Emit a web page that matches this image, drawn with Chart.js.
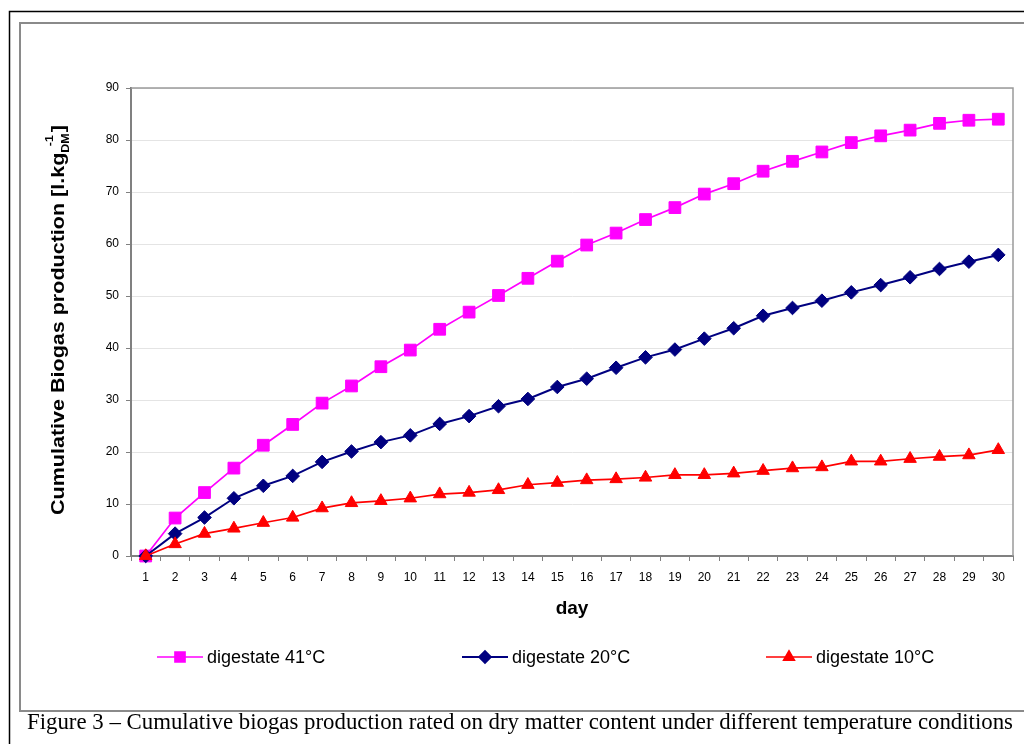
<!DOCTYPE html>
<html>
<head>
<meta charset="utf-8">
<script src="https://cdn.jsdelivr.net/npm/chart.js@4.4.0/dist/chart.umd.min.js"></script>
<style>
  html, body { margin: 0; padding: 0; background: #ffffff; }
  #wrap { position: relative; width: 1024px; height: 744px; }
</style>
</head>
<body>
<div id="wrap"><canvas id="c" width="1024" height="744"></canvas></div>
<script>
// ---- data ----
const days = ['1','2','3','4','5','6','7','8','9','10','11','12','13','14','15',
              '16','17','18','19','20','21','22','23','24','25','26','27','28','29','30'];
const digestate41 = [0, 7.3, 12.2, 16.9, 21.3, 25.3, 29.4, 32.7, 36.4, 39.6,
                     43.6, 46.9, 50.1, 53.4, 56.7, 59.8, 62.1, 64.7, 67.0, 69.6,
                     71.6, 74.0, 75.9, 77.7, 79.5, 80.8, 81.9, 83.2, 83.8, 84.0];
const digestate20 = [0, 4.3, 7.4, 11.1, 13.5, 15.4, 18.1, 20.1, 21.9, 23.2,
                     25.4, 26.9, 28.8, 30.2, 32.5, 34.1, 36.2, 38.2, 39.7, 41.8,
                     43.8, 46.2, 47.7, 49.1, 50.7, 52.1, 53.6, 55.2, 56.6, 57.9];
const digestate10 = [0, 2.3, 4.3, 5.3, 6.4, 7.4, 9.2, 10.2, 10.6, 11.1,
                     11.9, 12.2, 12.7, 13.7, 14.1, 14.6, 14.8, 15.1, 15.6, 15.6,
                     15.9, 16.4, 16.9, 17.1, 18.2, 18.2, 18.7, 19.1, 19.4, 20.4];
const seriesNames = ['digestate 41°C', 'digestate 20°C', 'digestate 10°C'];
const yTicks = [0, 10, 20, 30, 40, 50, 60, 70, 80, 90];
const xTitle = 'day';
const yTitleParts = ['Cumulative Biogas production [l.kg', 'DM', '-1', ']'];
const caption = 'Figure 3 \u2013 Cumulative biogas production rated on dry matter content under different temperature conditions';

// ---- styles ----
const colors = ['#FF00FF', '#000080', '#FF0000'];
const pStyles = ['rect', 'rectRot', 'triangle'];
const pRadius = [8.3, 6.8, 7.2];
const lWidths = [1.7, 2, 1.7];

const framePlugin = {
  id: 'frame',
  beforeDraw(chart) {
    const ctx = chart.ctx;
    ctx.save();
    ctx.fillStyle = '#ffffff';
    ctx.fillRect(0, 0, chart.width, chart.height);
    // outer black frame
    ctx.strokeStyle = '#000000';
    ctx.lineWidth = 1.5;
    ctx.beginPath();
    ctx.moveTo(9.5, 744); ctx.lineTo(9.5, 11.5); ctx.lineTo(1024, 11.5);
    ctx.stroke();
    // inner gray frame
    ctx.strokeStyle = '#8a8a8a';
    ctx.lineWidth = 2;
    ctx.beginPath();
    ctx.moveTo(1024, 23); ctx.lineTo(20, 23); ctx.lineTo(20, 711); ctx.lineTo(1024, 711);
    ctx.stroke();
    ctx.restore();
  },
  afterDraw(chart) {
    const ctx = chart.ctx;
    const a = chart.chartArea;
    ctx.save();
    // plot area border (top, right)
    ctx.strokeStyle = '#9a9a9a';
    ctx.lineWidth = 1.5;
    ctx.beginPath();
    ctx.moveTo(a.left, a.top); ctx.lineTo(a.right, a.top); ctx.lineTo(a.right, a.bottom);
    ctx.stroke();

    // y axis title with sub/superscript
    ctx.fillStyle = '#000000';
    ctx.textBaseline = 'middle';
    const big = 'bold 19px Arial, "Liberation Sans", sans-serif';
    const small = 'bold 11px Arial, "Liberation Sans", sans-serif';
    ctx.font = big; const w0 = ctx.measureText(yTitleParts[0]).width;
    const w3 = ctx.measureText(yTitleParts[3]).width;
    ctx.font = small; const w1 = ctx.measureText(yTitleParts[1]).width;
    const w2 = ctx.measureText(yTitleParts[2]).width;
    const total = w0 + Math.max(w1, w2) + w3 + 1;
    const targetLen = 390;
    ctx.translate(59, (a.top + a.bottom) / 2 - 2);
    ctx.rotate(-Math.PI / 2);
    ctx.scale(targetLen / total, 1);
    let x = -total / 2;
    ctx.textAlign = 'left';
    ctx.font = big; ctx.fillText(yTitleParts[0], x, 0); x += w0;
    ctx.font = small; ctx.fillText(yTitleParts[1], x, 7);
    ctx.fillText(yTitleParts[2], x + (w1 - w2) / 2 + 2, -9);
    x += Math.max(w1, w2) + 1;
    ctx.font = big; ctx.fillText(yTitleParts[3], x, 0);
    ctx.setTransform(1, 0, 0, 1, 0, 0);

    // legend
    const legendY = 657;
    const starts = [157, 462, 766];
    ctx.textBaseline = 'middle';
    ctx.textAlign = 'left';
    ctx.font = '18px Arial, "Liberation Sans", sans-serif';
    for (let i = 0; i < 3; i++) {
      const sx = starts[i];
      ctx.strokeStyle = colors[i];
      ctx.lineWidth = lWidths[i];
      ctx.beginPath(); ctx.moveTo(sx, legendY); ctx.lineTo(sx + 46, legendY); ctx.stroke();
      ctx.fillStyle = colors[i];
      Chart.helpers.drawPoint(ctx, {pointStyle: pStyles[i], radius: pRadius[i] * 0.85, borderWidth: 1, rotation: 0}, sx + 23, legendY);
      ctx.fill();
      ctx.fillStyle = '#000000';
      ctx.fillText(seriesNames[i], sx + 50, legendY + 1);
    }

    // caption
    ctx.fillStyle = '#000000';
    ctx.textBaseline = 'alphabetic';
    let fs = 20;
    ctx.font = fs + 'px "Liberation Serif", "Times New Roman", serif';
    const cw = ctx.measureText(caption).width;
    fs = fs * 986 / cw;
    ctx.font = fs.toFixed(2) + 'px "Liberation Serif", "Times New Roman", serif';
    ctx.fillText(caption, 27, 729);
    ctx.restore();
  }
};

const datasets = [digestate41, digestate20, digestate10].map((d, i) => ({
  label: seriesNames[i],
  data: d,
  borderColor: colors[i],
  backgroundColor: colors[i],
  pointBackgroundColor: colors[i],
  pointBorderColor: colors[i],
  pointStyle: pStyles[i],
  pointRadius: pRadius[i],
  pointBorderWidth: 1,
  borderWidth: lWidths[i],
  tension: 0,
  clip: false
})).reverse();

new Chart(document.getElementById('c'), {
  type: 'line',
  data: { labels: days, datasets },
  options: {
    responsive: false,
    animation: false,
    events: [],
    layout: { padding: { left: 71, right: 11, top: 88, bottom: 744 - 556 - 68 } },
    plugins: { legend: { display: false }, title: { display: false }, tooltip: { enabled: false } },
    scales: {
      x: {
        type: 'category',
        offset: true,
        grid: { offset: true, drawOnChartArea: false, drawTicks: true, tickLength: 5, color: '#808080', tickColor: '#808080', lineWidth: 1 },
        border: { color: '#808080', width: 2 },
        ticks: { color: '#000000', font: { family: 'Arial, "Liberation Sans", sans-serif', size: 12 }, padding: 9, maxRotation: 0, autoSkip: false },
        title: { display: true, text: xTitle, color: '#000000', font: { family: 'Arial, "Liberation Sans", sans-serif', size: 19, weight: 'bold' }, padding: { top: 4, bottom: 4 } },
        afterFit(scale) { scale.height = 68; }
      },
      y: {
        min: 0, max: 90,
        afterBuildTicks(scale) { scale.ticks = yTicks.map(v => ({ value: v })); },
        grid: { color: (c) => c.tick && c.tick.value === 0 ? '#808080' : '#e4e4e4', tickColor: '#808080', tickLength: 5, lineWidth: 1 },
        border: { color: '#808080', width: 2 },
        ticks: { color: '#000000', font: { family: 'Arial, "Liberation Sans", sans-serif', size: 12 }, padding: 7 },
        afterFit(scale) { scale.width = 60; }
      }
    }
  },
  plugins: [framePlugin]
});
</script>
</body>
</html>
